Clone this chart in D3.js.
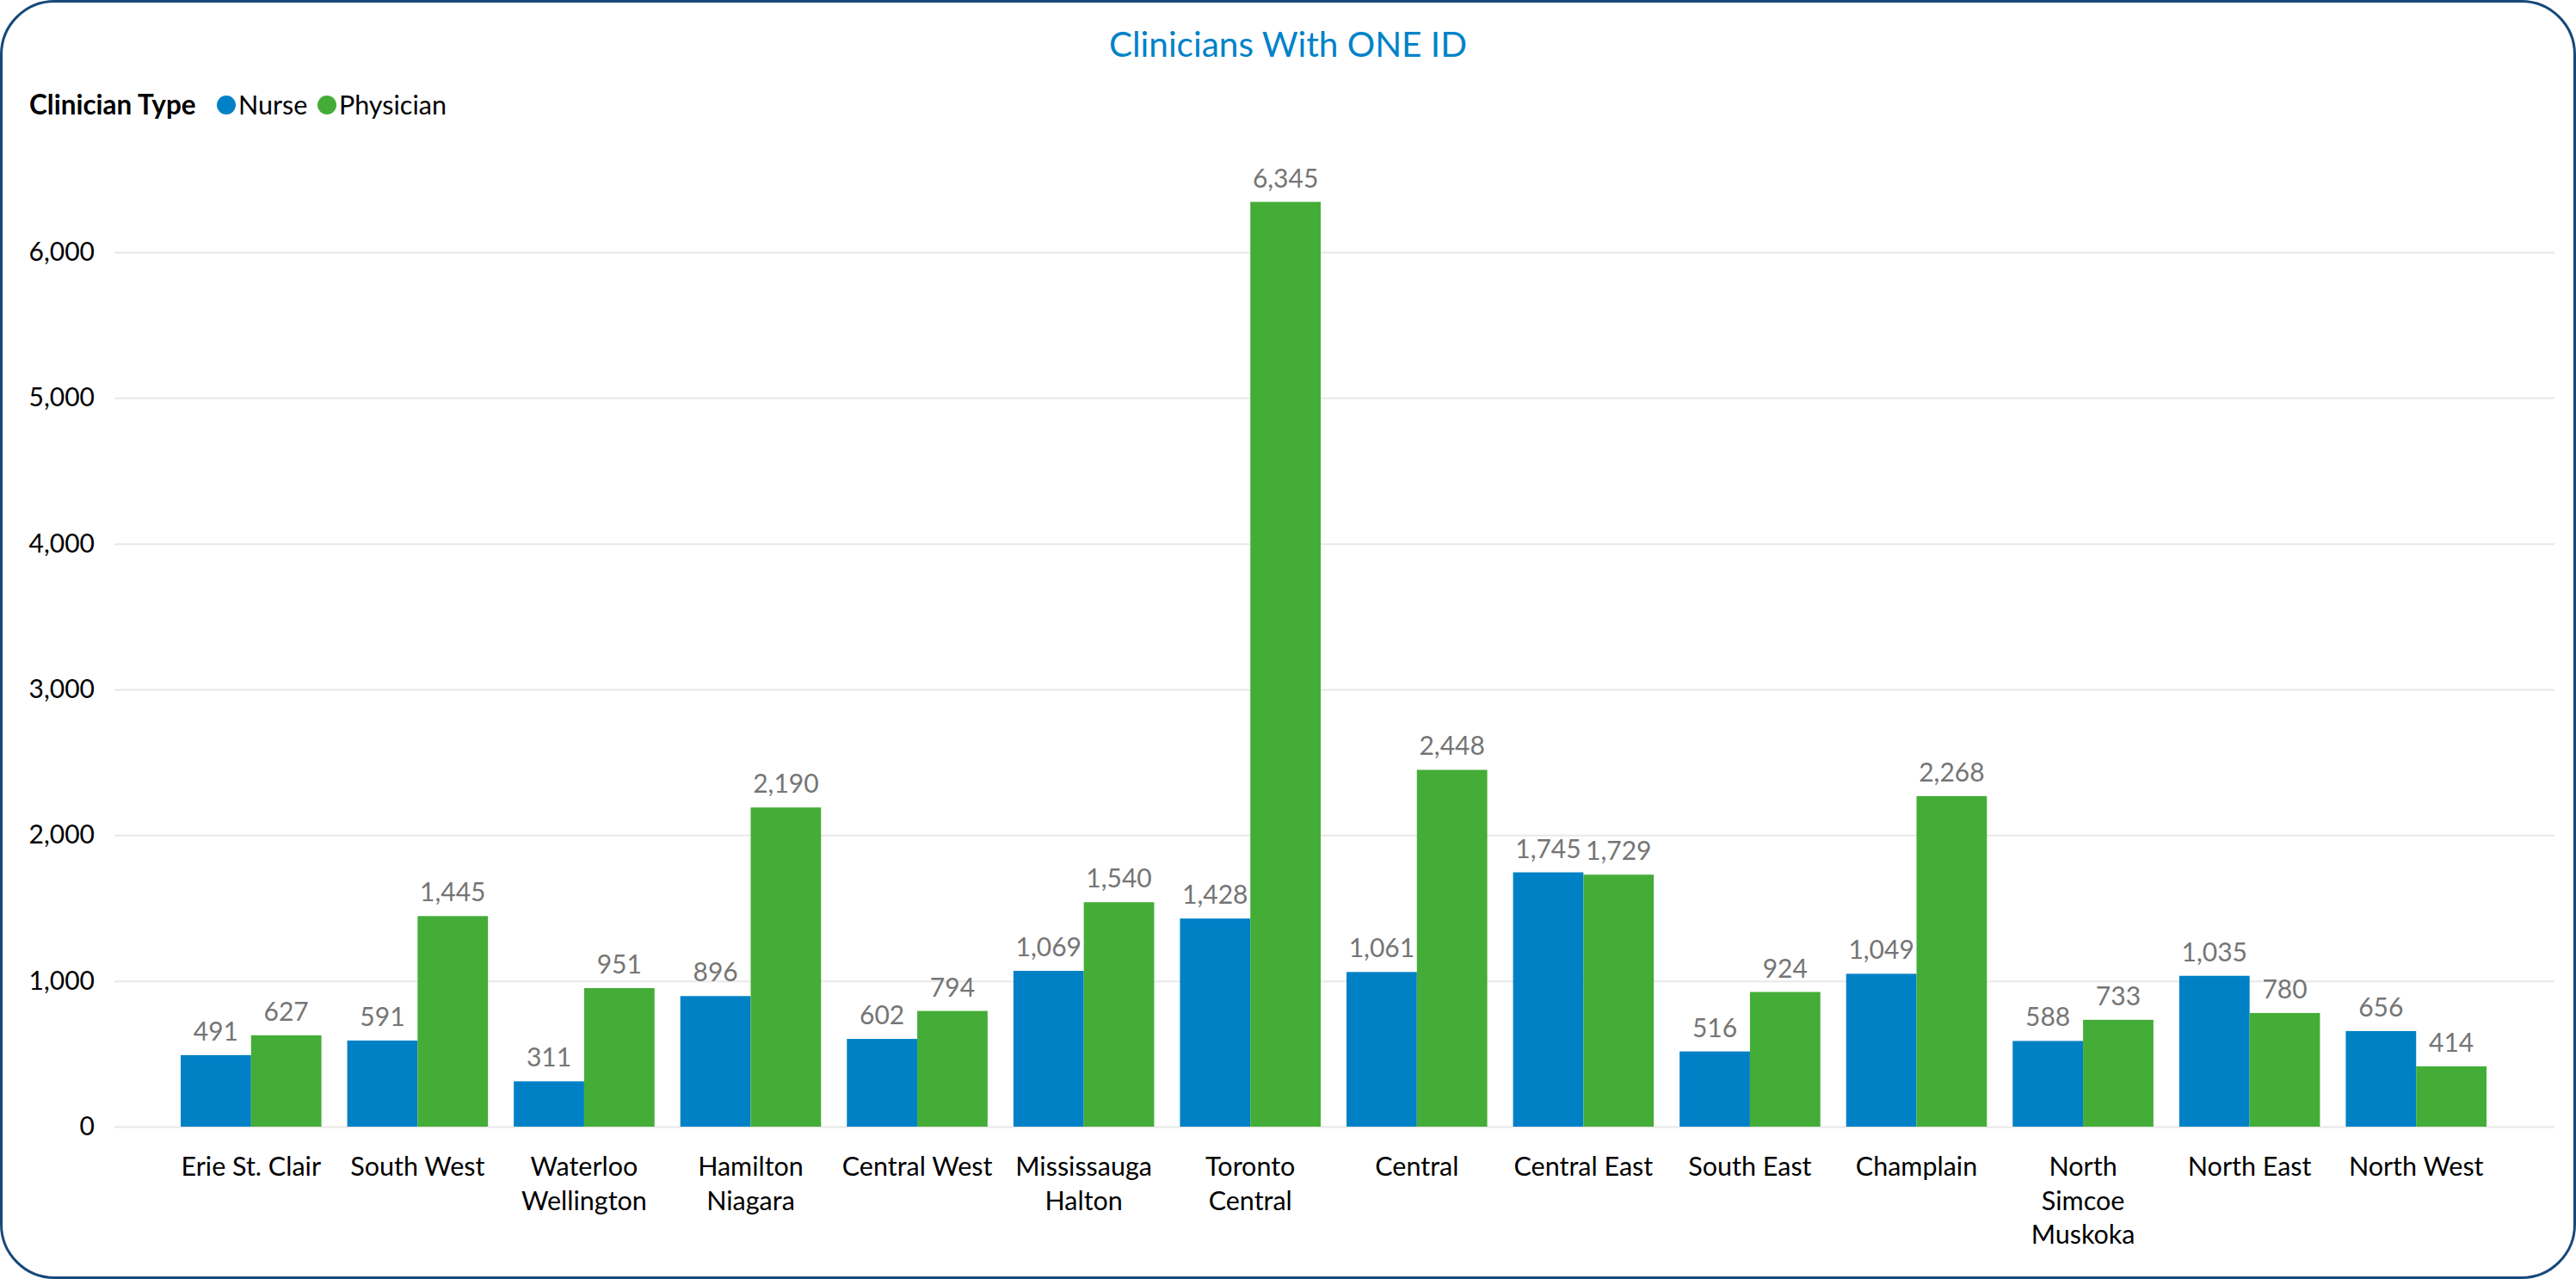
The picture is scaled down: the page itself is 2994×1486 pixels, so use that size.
<!DOCTYPE html>
<html>
<head>
<meta charset="utf-8">
<script src="https://cdn.jsdelivr.net/npm/d3@7"></script>
<style>
  html, body { margin: 0; padding: 0; background: #ffffff; }
  svg { display: block; }
</style>
</head>
<body>
<div id="chart"></div>
<script>
const categories = ["Erie St. Clair", "South West", "Waterloo Wellington", "Hamilton Niagara", "Central West",
  "Mississauga Halton", "Toronto Central", "Central", "Central East", "South East", "Champlain",
  "North Simcoe Muskoka", "North East", "North West"];
const categoryLines = [["Erie St. Clair"], ["South West"], ["Waterloo", "Wellington"], ["Hamilton", "Niagara"],
  ["Central West"], ["Mississauga", "Halton"], ["Toronto", "Central"], ["Central"], ["Central East"],
  ["South East"], ["Champlain"], ["North", "Simcoe", "Muskoka"], ["North East"], ["North West"]];
const seriesNames = ["Nurse", "Physician"];
const nurseValues = [491, 591, 311, 896, 602, 1069, 1428, 1061, 1745, 516, 1049, 588, 1035, 656];
const physicianValues = [627, 1445, 951, 2190, 794, 1540, 6345, 2448, 1729, 924, 2268, 733, 780, 414];
const yTicks = [0, 1000, 2000, 3000, 4000, 5000, 6000];
const seriesColors = ["#0081c6", "#44ad38"];

const W = 2994, H = 1486;
const FONT = "Lato, 'Open Sans', sans-serif";

const svg = d3.select("#chart").append("svg")
  .attr("width", W).attr("height", H)
  .style("font-family", FONT);

// frame
svg.append("rect")
  .attr("x", 1.5).attr("y", 1.5)
  .attr("width", W - 3).attr("height", H - 3)
  .attr("rx", 62).attr("ry", 62)
  .attr("fill", "#ffffff")
  .attr("stroke", "#17497a").attr("stroke-width", 3);

// title
svg.append("text")
  .attr("x", 1497).attr("y", 66)
  .attr("text-anchor", "middle")
  .attr("fill", "#0082c8")
  .style("font-size", "40.5px")
  .text("Clinicians With ONE ID");

// legend
const legend = svg.append("g");
legend.append("text")
  .attr("x", 34).attr("y", 133)
  .attr("font-weight", "bold")
  .attr("fill", "#000")
  .style("font-size", "31.5px")
  .text("Clinician Type");
const legendX = [263, 380];
seriesNames.forEach((name, i) => {
  legend.append("circle")
    .attr("cx", legendX[i]).attr("cy", 122).attr("r", 11)
    .attr("fill", seriesColors[i]);
  legend.append("text")
    .attr("x", legendX[i] + 14).attr("y", 133)
    .attr("fill", "#000")
    .style("font-size", "30.5px")
    .text(name);
});

// scales
const gridLeft = 133, gridRight = 2969;
const y = d3.scaleLinear().domain([0, 6000]).range([1309, 293]);
const x = d3.scaleBand().domain(categories).range([195, 2905]).paddingInner(0.155).paddingOuter(0.0775);
const xs = d3.scaleBand().domain(seriesNames).range([0, x.bandwidth()]);

// y axis with gridlines
const yAxis = svg.append("g")
  .attr("transform", `translate(${gridLeft},0)`)
  .call(d3.axisLeft(y).tickValues(yTicks).tickFormat(d3.format(","))
    .tickSizeInner(-(gridRight - gridLeft)).tickSizeOuter(0).tickPadding(23));
yAxis.select(".domain").remove();
yAxis.selectAll(".tick line").attr("stroke", "#e8e8e8").attr("stroke-width", 2);
yAxis.selectAll(".tick text")
  .attr("fill", "#000")
  .style("font-size", "30px")
  .style("font-family", FONT);

// bars
const rows = categories.map((c, i) => ({ cat: c, vals: [nurseValues[i], physicianValues[i]] }));
const groups = svg.append("g").selectAll("g").data(rows).join("g")
  .attr("transform", d => `translate(${x(d.cat)},0)`);
groups.selectAll("rect")
  .data(d => d.vals.map((v, j) => ({ s: seriesNames[j], v, j })))
  .join("rect")
  .attr("x", d => xs(d.s))
  .attr("y", d => y(d.v))
  .attr("width", xs.bandwidth())
  .attr("height", d => y(0) - y(d.v))
  .attr("fill", d => seriesColors[d.j]);
groups.selectAll("text.val")
  .data(d => d.vals.map((v, j) => ({ s: seriesNames[j], v, j })))
  .join("text")
  .attr("class", "val")
  .attr("x", d => xs(d.s) + xs.bandwidth() / 2)
  .attr("y", d => y(d.v) - 17)
  .attr("text-anchor", "middle")
  .attr("fill", "#757575")
  .style("font-size", "30px")
  .text(d => d3.format(",")(d.v));

// x axis (category labels)
const xAxis = svg.append("g")
  .attr("transform", `translate(0,${y(0)})`)
  .call(d3.axisBottom(x).tickSize(0).tickFormat(""));
xAxis.select(".domain").remove();
xAxis.selectAll(".tick").each(function(d, i) {
  const t = d3.select(this).append("text")
    .attr("text-anchor", "middle")
    .attr("fill", "#000")
    .style("font-size", "30.5px")
    .style("font-family", FONT);
  categoryLines[i].forEach((line, k) => {
    t.append("tspan").attr("x", 0).attr("y", 57 + k * 39.5).text(line);
  });
});
</script>
</body>
</html>
